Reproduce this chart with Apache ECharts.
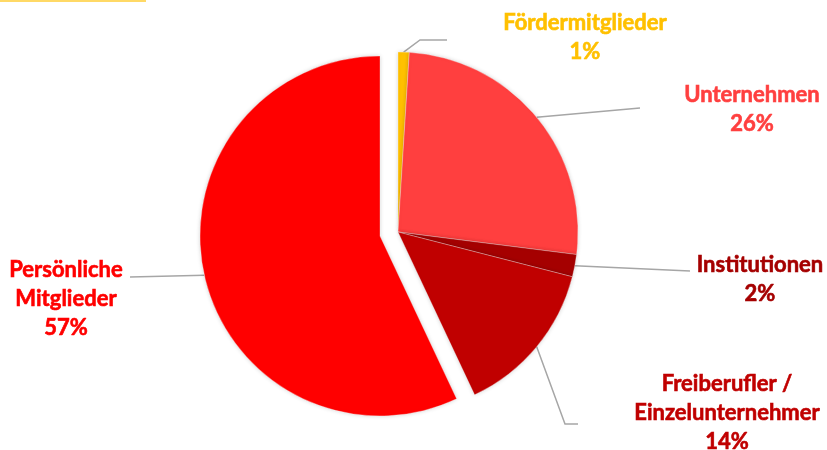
<!DOCTYPE html>
<html>
<head>
<meta charset="utf-8">
<script src="https://cdn.jsdelivr.net/npm/echarts@6/dist/echarts.min.js"></script>
<style>
html,body{margin:0;padding:0;background:#fff;}
#chart{width:827px;height:450px;}
</style>
</head>
<body>
<div id="chart"></div>
<script>
// Mitgliederstruktur
var names = ['Fördermitglieder', 'Unternehmen', 'Institutionen', 'Freiberufler /\nEinzelunternehmer', 'Persönliche\nMitglieder'];
var values = [1, 26, 2, 14, 57];
var colors = ['#FFC000', '#FF3F3F', '#A50000', '#C00000', '#FF0000'];
var exploded = 4; // herausgezogenes Segment

// label block centres and leader line ends (elbow, end)
var labelPos = [[585, 37], [752, 109], [760, 279], [727, 413], [66, 299]];
var lineEnds = [[[420, 40], [447, 40]], [[640, 108], [640, 108]], [[690, 271], [690, 271]], [[565, 424], [578, 424]], [[130, 277], [130, 277]]];

var chart = echarts.init(document.getElementById('chart'));

// zwei Serien: Segmente im Kreis und das herausgezogene Segment
function buildData(part) {
	var data = [];
	for (var i = 0; i < names.length; i++) {
		var mine = (i == exploded) == (part == 1);
		data.push({
			name: names[i],
			value: values[i],
			itemStyle: mine ? {color: colors[i]} : {color: 'rgba(0,0,0,0)', borderWidth: 0, shadowBlur: 0},
			label: mine ? {show: true, color: colors[i], textBorderColor: colors[i], textBorderWidth: 0.6} : {show: false},
			labelLine: {show: mine}
		});
	}
	return data;
}

function makeSeries(part, center) {
	return {
		type: 'pie',
		center: center,
		radius: [0, 180],
		startAngle: 90,
		clockwise: true,
		avoidLabelOverlap: false,
		silent: true,
		itemStyle: {
			borderColor: 'rgba(255,255,255,0.6)',
			borderWidth: 0.5,
			shadowBlur: 4,
			shadowColor: 'rgba(0,0,0,0.18)'
		},
		label: {
			position: 'outside',
			fontFamily: 'Lato',
			fontWeight: 'bold',
			fontSize: 22,
			lineHeight: 29,
			align: 'center',
			formatter: function (p) {
				return p.name + '\n' + Math.round(p.value) + '%';
			}
		},
		labelLine: {
			length: 10,
			length2: 10,
			lineStyle: {color: '#A6A6A6', width: 1.5}
		},
		labelLayout: function (params) {
			var i = params.dataIndex;
			var start = params.labelLinePoints ? params.labelLinePoints[0] : lineEnds[i][0];
			return {
				x: labelPos[i][0],
				y: labelPos[i][1],
				align: 'center',
				verticalAlign: 'middle',
				labelLinePoints: [start, lineEnds[i][0], lineEnds[i][1]]
			};
		},
		emphasis: {disabled: true},
		data: buildData(part)
	};
}

chart.setOption({
	animation: false,
	graphic: [{
		type: 'rect',
		shape: {x: 0, y: 0, width: 146, height: 2},
		style: {fill: '#FFD966'}
	}],
	series: [
		makeSeries(0, [398, 232]),
		makeSeries(1, [380, 236])
	]
});
</script>
</body>
</html>
